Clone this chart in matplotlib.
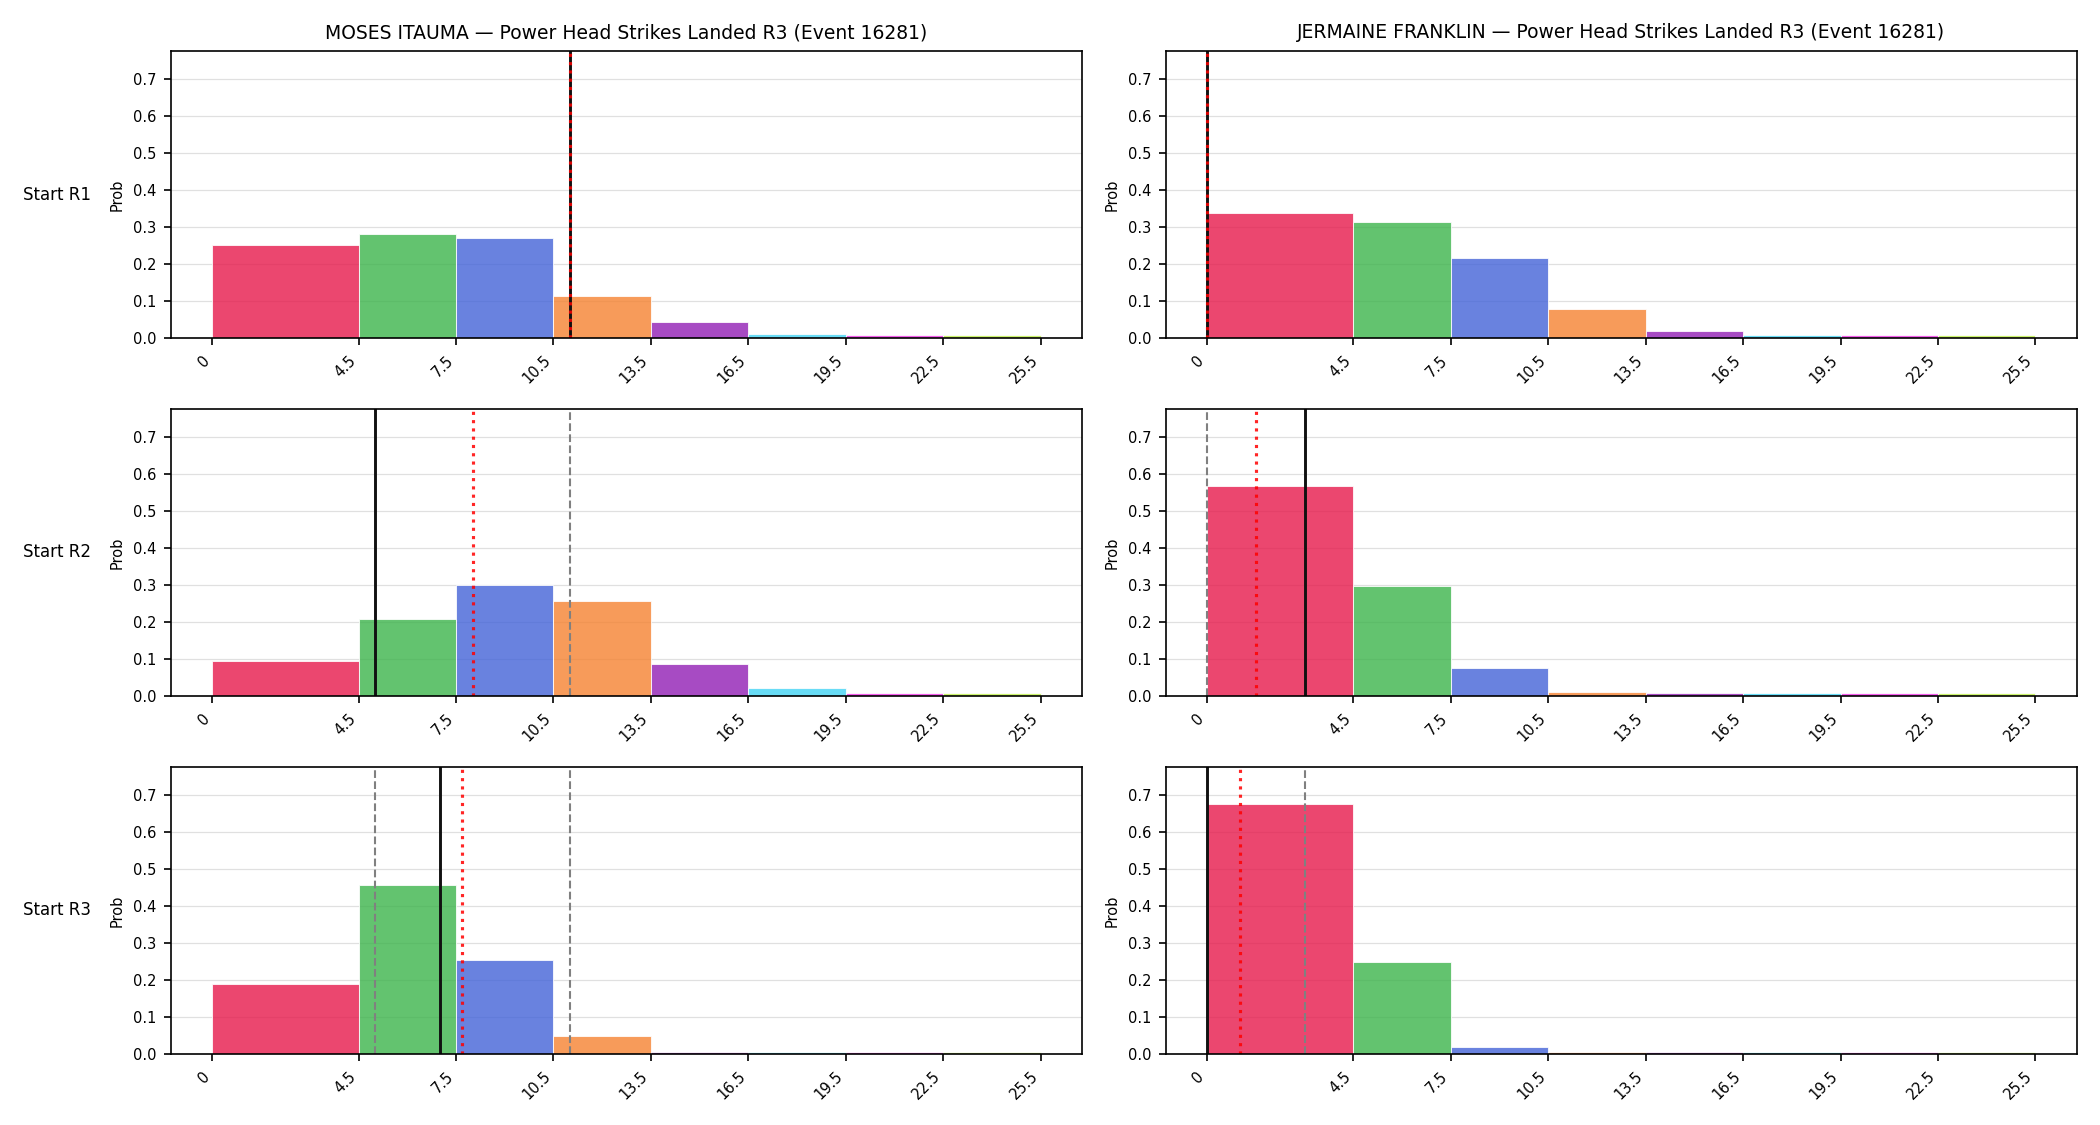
import matplotlib
matplotlib.use("Agg")
import matplotlib.pyplot as plt
import numpy as np

# ---------------- data ----------------
bin_edges = [0, 4.5, 7.5, 10.5, 13.5, 16.5, 19.5, 22.5, 25.5]
tick_labels = ["0", "4.5", "7.5", "10.5", "13.5", "16.5", "19.5", "22.5", "25.5"]
row_labels = ["Start R1", "Start R2", "Start R3"]
fighters = ["MOSES ITAUMA", "JERMAINE FRANKLIN"]
title_suffix = " \u2014 Power Head Strikes Landed R3 (Event 16281)"

itauma_r1 = [0.251, 0.281, 0.270, 0.114, 0.043, 0.011, 0.0085, 0.0085]
itauma_r2 = [0.095, 0.208, 0.299, 0.257, 0.086, 0.022, 0.0075, 0.0075]
itauma_r3 = [0.190, 0.455, 0.255, 0.049, 0.0055, 0.0055, 0.0055, 0.0055]

franklin_r1 = [0.337, 0.313, 0.215, 0.079, 0.019, 0.0085, 0.0085, 0.0085]
franklin_r2 = [0.568, 0.298, 0.076, 0.0105, 0.0085, 0.0075, 0.0075, 0.0075]
franklin_r3 = [0.674, 0.249, 0.020, 0.0055, 0.0055, 0.0055, 0.0055, 0.0055]

# solid black marker, red dotted marker, gray dashed markers
itauma_solid = [11, 5, 7]
itauma_dotted = [11, 8.03, 7.69]
itauma_dashed = [[], [11], [5, 11]]

franklin_solid = [0, 3, 0]
franklin_dotted = [0, 1.5, 1.0]
franklin_dashed = [[], [0], [3]]

bar_colors = ["#e6194B", "#3cb44b", "#4363d8", "#f58231",
              "#911eb4", "#42d4f4", "#f032e6", "#bfef45"]

probs = [[itauma_r1, itauma_r2, itauma_r3],
         [franklin_r1, franklin_r2, franklin_r3]]
solids = [itauma_solid, franklin_solid]
dotteds = [itauma_dotted, franklin_dotted]
dasheds = [itauma_dashed, franklin_dashed]

# ---------------- plot ----------------
fig, axes = plt.subplots(3, 2, figsize=(14, 7.5), dpi=150)
fig.subplots_adjust(left=0.0814, right=0.989, top=0.9547, bottom=0.0631,
                    wspace=0.092, hspace=0.247)

ymax = max(max(max(r) for r in f) for f in probs) * 1.15
edges = np.array(bin_edges)
widths = np.diff(edges)

for c in range(2):
    for r in range(3):
        ax = axes[r, c]
        ax.set_axisbelow(True)
        ax.bar(edges[:-1], probs[c][r], width=widths, align="edge",
               color=bar_colors, alpha=0.8, edgecolor="white", linewidth=0.5)
        for xv in dasheds[c][r]:
            ax.axvline(xv, color="gray", linestyle="--", linewidth=1.0)
        ax.axvline(solids[c][r], color="#111111", linestyle="-", linewidth=1.4)
        ax.axvline(dotteds[c][r], color="red", linestyle=":", linewidth=1.5, alpha=0.85)
        ax.set_ylim(0, ymax)
        ax.set_xticks(bin_edges)
        ax.set_xticklabels(tick_labels, rotation=45, ha="right")
        ax.set_yticks(np.arange(0, 0.75, 0.1))
        ax.tick_params(labelsize=7)
        ax.grid(axis="y", color="#e0e0e0", linewidth=0.6)
        ax.set_ylabel("Prob", fontsize=7)
        if r == 0:
            ax.set_title(fighters[c] + title_suffix, fontsize=9)
        if c == 0:
            ax.text(-0.162, 0.5, row_labels[r], transform=ax.transAxes,
                    ha="left", va="center", fontsize=8)

fig.savefig("out.png", dpi=150)
